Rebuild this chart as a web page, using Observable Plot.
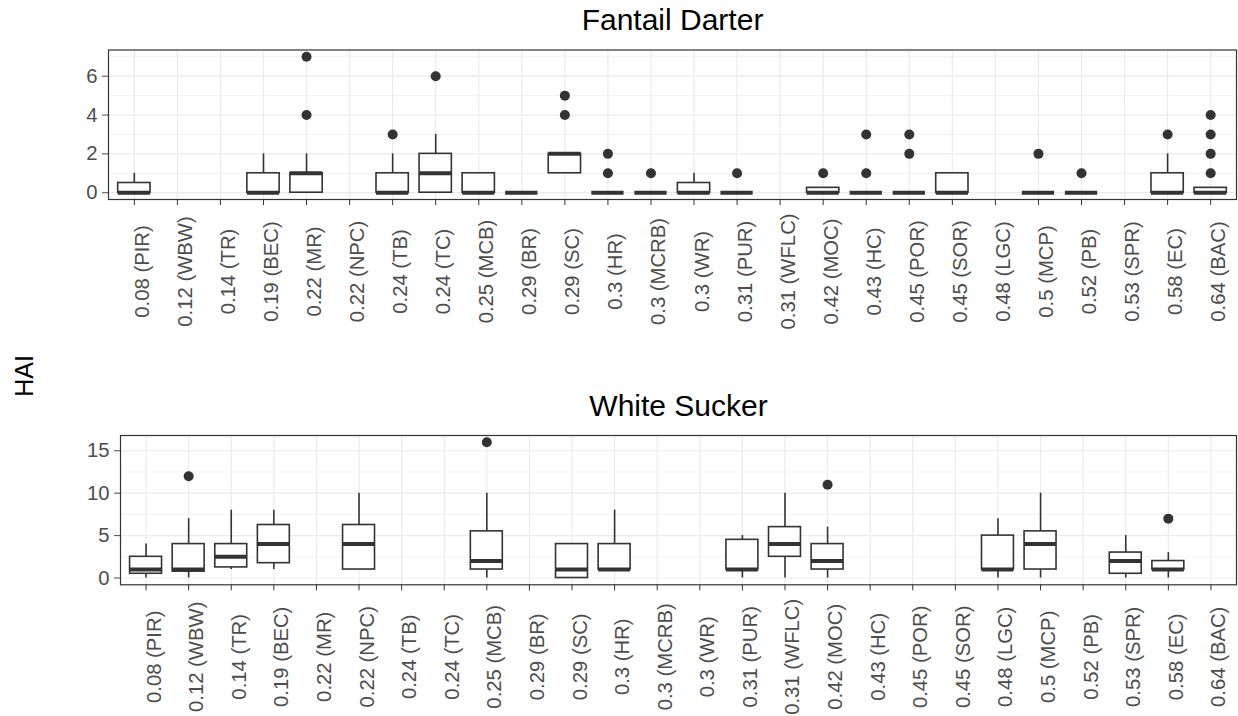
<!DOCTYPE html>
<html><head><meta charset="utf-8">
<script src="https://cdn.jsdelivr.net/npm/d3@7"></script>
<script src="https://cdn.jsdelivr.net/npm/@observablehq/plot@0.6"></script>
<style>
html,body{margin:0;padding:0;background:#fff;overflow:hidden;}
#chart{position:relative;width:1238px;height:716px;}
</style></head><body><div id="chart"></div>
<script>
const categories = ["0.08 (PIR)","0.12 (WBW)","0.14 (TR)","0.19 (BEC)","0.22 (MR)","0.22 (NPC)","0.24 (TB)","0.24 (TC)","0.25 (MCB)","0.29 (BR)","0.29 (SC)","0.3 (HR)","0.3 (MCRB)","0.3 (WR)","0.31 (PUR)","0.31 (WFLC)","0.42 (MOC)","0.43 (HC)","0.45 (POR)","0.45 (SOR)","0.48 (LGC)","0.5 (MCP)","0.52 (PB)","0.53 (SPR)","0.58 (EC)","0.64 (BAC)"];

// Fantail Darter box statistics (null = no data)
const fdLow    = [0,null,null,0,0,null,0,0,0,0,1,0,0,0,0,null,0,0,0,0,null,0,0,null,0,0];
const fdQ1     = [0,null,null,0,0,null,0,0,0,0,1,0,0,0,0,null,0,0,0,0,null,0,0,null,0,0];
const fdMedian = [0,null,null,0,1,null,0,1,0,0,2,0,0,0,0,null,0,0,0,0,null,0,0,null,0,0];
const fdQ3     = [0.5,null,null,1,1,null,1,2,1,0,2,0,0,0.5,0,null,0.25,0,0,1,null,0,0,null,1,0.25];
const fdHigh   = [1,null,null,2,2,null,2,3,1,0,2,0,0,1,0,null,0.25,0,0,1,null,0,0,null,2,0.25];
const fdOutlierCategory = ["0.22 (MR)","0.22 (MR)","0.24 (TB)","0.24 (TC)","0.29 (SC)","0.29 (SC)","0.3 (HR)","0.3 (HR)","0.3 (MCRB)","0.31 (PUR)","0.42 (MOC)","0.43 (HC)","0.43 (HC)","0.45 (POR)","0.45 (POR)","0.5 (MCP)","0.52 (PB)","0.58 (EC)","0.64 (BAC)","0.64 (BAC)","0.64 (BAC)","0.64 (BAC)"];
const fdOutlierValue    = [4,7,3,6,4,5,1,2,1,1,1,1,3,2,3,2,1,3,1,2,3,4];

// White Sucker box statistics
const wsLow    = [0,0,1,1,null,1,null,null,0,null,0,1,null,null,0,0,0,null,null,null,0,0,null,0,0,null];
const wsQ1     = [0.5,0.75,1.25,1.75,null,1,null,null,1,null,0,1,null,null,1,2.5,1,null,null,null,1,1,null,0.5,1,null];
const wsMedian = [1,1,2.5,4,null,4,null,null,2,null,1,1,null,null,1,4,2,null,null,null,1,4,null,2,1,null];
const wsQ3     = [2.5,4,4,6.25,null,6.25,null,null,5.5,null,4,4,null,null,4.5,6,4,null,null,null,5,5.5,null,3,2,null];
const wsHigh   = [4,7,8,8,null,10,null,null,10,null,4,8,null,null,5,10,6,null,null,null,7,10,null,5,3,null];
const wsOutlierCategory = ["0.12 (WBW)","0.25 (MCB)","0.42 (MOC)","0.58 (EC)"];
const wsOutlierValue    = [12,16,11,7];

const fdYTicks = [0,2,4,6];
const fdYMinor = [1,3,5,7];
const wsYTicks = [0,5,10,15];
const wsYMinor = [2.5,7.5,12.5];

const fdTitle = "Fantail Darter";
const wsTitle = "White Sucker";
const yTitle = "HAI";

const FONT = "'Liberation Sans', Arial, Helvetica, sans-serif";

function panel(o) {
  const boxes = categories.map((c, i) => ({cat: c, low: o.low[i], q1: o.q1[i], med: o.med[i], q3: o.q3[i], high: o.high[i]}))
    .filter(d => d.med != null);
  const outliers = o.outCat.map((c, i) => ({cat: c, v: o.outVal[i]}));
  return Plot.plot({
    width: 1238, height: o.height,
    marginTop: o.marginTop, marginRight: 2, marginBottom: o.marginBottom, marginLeft: o.marginLeft,
    style: {fontFamily: FONT, fontSize: "20px", background: "white", overflow: "visible"},
    x: {type: "band", domain: categories, paddingInner: 0.25, paddingOuter: 0.225, align: 0.5, round: false, label: null},
    y: {domain: o.yDomain, label: null},
    marks: [
      Plot.ruleX(categories, {x: d => d, stroke: "#ebebeb", strokeWidth: 1.2}),
      Plot.ruleY(o.yMinor, {stroke: "#ebebeb", strokeWidth: 0.6}),
      Plot.ruleY(o.yTicks, {stroke: "#ebebeb", strokeWidth: 1.2}),
      Plot.ruleX(boxes, {x: "cat", y1: "low", y2: "q1", stroke: "#333", strokeWidth: 1.6}),
      Plot.ruleX(boxes, {x: "cat", y1: "q3", y2: "high", stroke: "#333", strokeWidth: 1.6}),
      Plot.barY(boxes, {x: "cat", y1: "q1", y2: "q3", fill: "white", stroke: "#333", strokeWidth: 1.6}),
      Plot.tickY(boxes, {x: "cat", y: "med", stroke: "#333", strokeWidth: 4}),
      Plot.dot(outliers, {x: "cat", y: "v", r: 5, fill: "#333", stroke: "none"}),
      Plot.frame({stroke: "#333", strokeWidth: 1.2}),
      Plot.axisY({ticks: o.yTicks, tickSize: 6, tickPadding: 5, fontSize: 20.3, color: "#4d4d4d", label: null}),
      Plot.axisX({tickSize: 6, tickFormat: () => "", color: "#333", label: null}),
      Plot.text(categories, {x: d => d, frameAnchor: "bottom", dy: 72, dx: 8, rotate: -90, textAnchor: "middle", lineAnchor: "middle", fontSize: 20.3, fill: "#4d4d4d"}),
      Plot.text([o.title], {frameAnchor: "top", dy: -20, lineAnchor: "bottom", fontSize: 30, fill: "black"})
    ]
  });
}

const chart = document.getElementById("chart");

const topPanel = panel({title: fdTitle, low: fdLow, q1: fdQ1, med: fdMedian, q3: fdQ3, high: fdHigh,
  outCat: fdOutlierCategory, outVal: fdOutlierValue, yDomain: [-0.35, 7.35], yTicks: fdYTicks, yMinor: fdYMinor,
  height: 340, marginTop: 49.5, marginBottom: 141, marginLeft: 108});
topPanel.style.position = "absolute"; topPanel.style.left = "0px"; topPanel.style.top = "0px";
chart.appendChild(topPanel);

const bottomPanel = panel({title: wsTitle, low: wsLow, q1: wsQ1, med: wsMedian, q3: wsQ3, high: wsHigh,
  outCat: wsOutlierCategory, outVal: wsOutlierValue, yDomain: [-0.8, 16.8], yTicks: wsYTicks, yMinor: wsYMinor,
  height: 336, marginTop: 55, marginBottom: 131.7, marginLeft: 120});
bottomPanel.style.position = "absolute"; bottomPanel.style.left = "0px"; bottomPanel.style.top = "380px";
chart.appendChild(bottomPanel);

const ov = d3.create("svg").attr("width", 60).attr("height", 716)
  .style("position", "absolute").style("left", "0px").style("top", "0px");
ov.append("text").attr("transform", "translate(33,376) rotate(-90)").attr("text-anchor", "middle")
  .attr("font-family", FONT).attr("font-size", 25).attr("fill", "black").text(yTitle);
chart.appendChild(ov.node());
</script></body></html>
